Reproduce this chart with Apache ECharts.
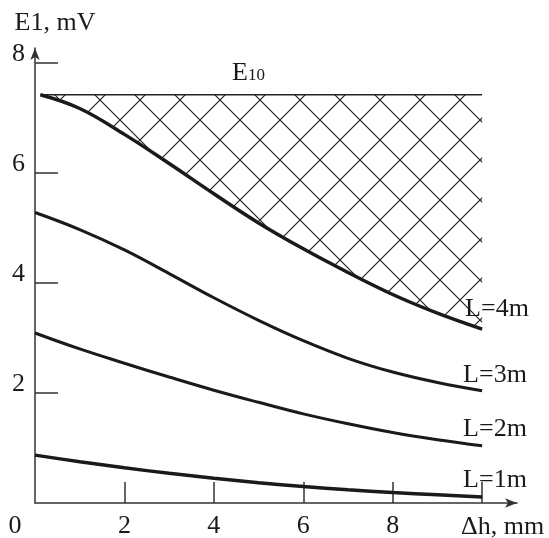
<!DOCTYPE html>
<html>
<head>
<meta charset="utf-8">
<script src="https://cdn.jsdelivr.net/npm/echarts@6/dist/echarts.min.js"></script>
<style>
html,body{margin:0;padding:0;background:#fff;}
#main{width:549px;height:538px;}
</style>
</head>
<body>
<div id="main"></div>
<script>
// readings: dh in mm, E1 in mV
var dh = [0, 1, 2, 3, 4, 5, 6, 7, 8, 9, 10];
var dhL4 = [0.12, 1, 2, 3, 4, 5, 6, 7, 8, 9, 10];
var l1 = [0.87, 0.75, 0.64, 0.54, 0.45, 0.37, 0.30, 0.24, 0.19, 0.15, 0.11];
var l2 = [3.09, 2.80, 2.54, 2.29, 2.05, 1.83, 1.62, 1.44, 1.28, 1.15, 1.04];
var l3 = [5.28, 4.97, 4.60, 4.17, 3.73, 3.32, 2.95, 2.63, 2.38, 2.19, 2.04];
var l4 = [7.42, 7.17, 6.70, 6.17, 5.62, 5.09, 4.62, 4.19, 3.79, 3.45, 3.16];
var e10 = 7.42;
var xTicks = [0, 2, 4, 6, 8];
var yTicks = [2, 4, 6, 8];

var FONT = '"Liberation Serif", "DejaVu Serif", serif';
var INK = '#1a1a1a';

function pairs(xs, ys) {
	var out = [];
	for (var i = 0; i < xs.length; i++) {
		out.push([xs[i], ys[i]]);
	}
	return out;
}

// cross hatch tile
function hatchTile() {
	var c = document.createElement('canvas');
	c.width = 40;
	c.height = 40;
	var ctx = c.getContext('2d');
	ctx.strokeStyle = '#222';
	ctx.lineWidth = 1.2;
	ctx.beginPath();
	ctx.moveTo(0, 0); ctx.lineTo(40, 40);
	ctx.moveTo(40, 0); ctx.lineTo(0, 40);
	ctx.stroke();
	return c;
}

function curve(name, xs, ys, width, off) {
	return {
		name: name,
		type: 'line',
		data: pairs(xs, ys),
		smooth: 0.4,
		symbol: 'none',
		silent: true,
		lineStyle: {color: INK, width: width},
		endLabel: {
			show: true,
			formatter: '{a}',
			offset: off,
			fontFamily: FONT,
			fontSize: 26,
			color: INK
		},
		z: 3
	};
}

var option = {
	animation: false,
	backgroundColor: '#fff',
	grid: {left: 35, top: 48, right: 32, bottom: 35, outerBoundsMode: 'none'},
	xAxis: {
		type: 'value',
		min: 0,
		max: 10.78,
		name: 'Δh, mm',
		nameLocation: 'end',
		nameGap: -56,
		nameTextStyle: {fontFamily: FONT, fontSize: 26, color: INK, align: 'left', verticalAlign: 'top', lineHeight: 48},
		splitLine: {show: false},
		axisLine: {lineStyle: {color: '#333', width: 1.5}, symbol: ['none', 'arrow'], symbolSize: [7, 12]},
		axisTick: {inside: true, length: 21, lineStyle: {color: '#333', width: 1.5}, customValues: [2, 4, 6, 8, 10]},
		axisLabel: {
			customValues: xTicks,
			margin: 10,
			fontFamily: FONT,
			fontSize: 26,
			color: INK,
			formatter: function (v) { return v === 0 ? '{z|0}' : String(v); },
			rich: {z: {fontFamily: FONT, fontSize: 26, color: INK, padding: [0, 40, 0, 0]}}
		}
	},
	yAxis: {
		type: 'value',
		min: 0,
		max: 8.27,
		name: 'E1, mV',
		nameLocation: 'end',
		nameGap: 12,
		nameTextStyle: {fontFamily: FONT, fontSize: 26, color: INK, align: 'center', padding: [0, 0, 0, 40]},
		splitLine: {show: false},
		axisLine: {lineStyle: {color: '#333', width: 1.5}, symbol: ['none', 'arrow'], symbolSize: [7, 12]},
		axisTick: {inside: true, length: 23, lineStyle: {color: '#333', width: 1.5}, customValues: yTicks},
		axisLabel: {
			customValues: yTicks,
			margin: 10,
			fontFamily: FONT,
			fontSize: 26,
			color: INK,
			verticalAlign: 'bottom',
			lineHeight: 18
		}
	},
	graphic: [{
		type: 'text',
		x: 232,
		y: 86,
		style: {
			text: '{a|E}{b|10}',
			verticalAlign: 'bottom',
			rich: {
				a: {fontFamily: FONT, fontSize: 26, fill: INK, verticalAlign: 'bottom'},
				b: {fontFamily: FONT, fontSize: 17, fill: INK, verticalAlign: 'bottom', padding: [0, 0, 2, 0]}
			}
		}
	}],
	series: [
		{
			// hatched band between E10 and the L=4m curve
			type: 'line', data: pairs(dhL4, l4), smooth: 0.4,
			symbol: 'none', silent: true, lineStyle: {width: 0},
			areaStyle: {origin: e10, color: {image: hatchTile(), repeat: 'repeat'}, opacity: 1}, z: 1
		},
		{
			type: 'line', data: [[dhL4[0], e10], [dh[dh.length - 1], e10]],
			symbol: 'none', silent: true, lineStyle: {color: '#222', width: 1.5}, z: 2
		},
		curve('L=4m', dhL4, l4, 3.5, [-25, -20]),
		curve('L=3m', dh, l3, 3, [-27, -16]),
		curve('L=2m', dh, l2, 3, [-27, -17]),
		curve('L=1m', dh, l1, 3.5, [-27, -17])
	]
};

var chart = echarts.init(document.getElementById('main'), null, {renderer: 'canvas'});
chart.setOption(option);
</script>
</body>
</html>
